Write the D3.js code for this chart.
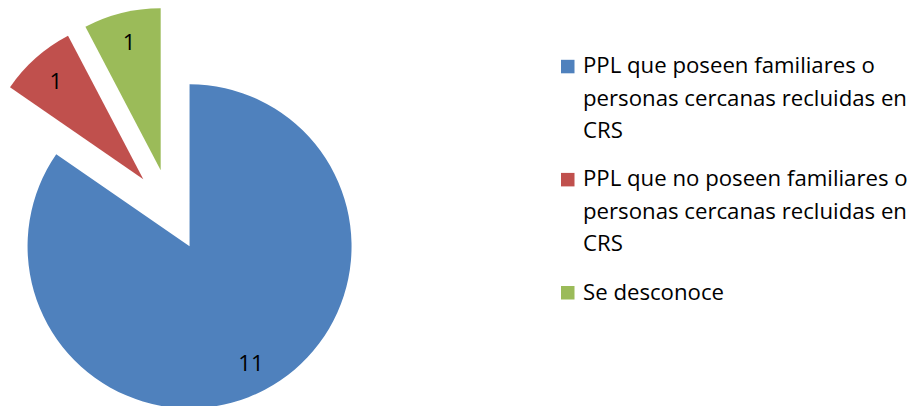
<!DOCTYPE html>
<html>
<head>
<meta charset="utf-8">
<script src="https://cdn.jsdelivr.net/npm/d3@7"></script>
<style>
  html, body { margin: 0; padding: 0; background: #fff; }
  svg { display: block; }
  text { font-family: 'Open Sans', sans-serif; fill: #000; }
</style>
</head>
<body>
<svg id="chart" width="922" height="406"></svg>
<script>
const categories = [
  'PPL que poseen familiares o personas cercanas recluidas en CRS',
  'PPL que no poseen familiares o personas cercanas recluidas en CRS',
  'Se desconoce',
];
const values = [11, 1, 1];
const colors = ['#4F81BD', '#C0504D', '#9BBB59'];

const svg = d3.select('#chart');

const cx = 170.5;
const cy = 210;
const radius = 162;
const explode = 41;
const labelRadius = 132;
const fontSize = 22.2;

const pie = d3.pie().sort(null).value((d) => d.value);
const arc = d3.arc().innerRadius(0).outerRadius(radius);

const slices = pie(values.map((v, i) => ({ value: v, name: categories[i], color: colors[i] })));

const g = svg.append('g').attr('transform', `translate(${cx},${cy})`);

const sliceG = g.selectAll('g.slice')
  .data(slices)
  .enter()
  .append('g')
  .attr('class', 'slice')
  .attr('transform', (d) => {
    const mid = (d.startAngle + d.endAngle) / 2;
    return `translate(${explode * Math.sin(mid)},${-explode * Math.cos(mid)})`;
  });

sliceG.append('path')
  .attr('d', arc)
  .attr('fill', (d) => d.data.color);

// data labels
sliceG.append('text')
  .attr('x', (d) => labelRadius * Math.sin((d.startAngle + d.endAngle) / 2))
  .attr('y', (d) => -labelRadius * Math.cos((d.startAngle + d.endAngle) / 2))
  .attr('dy', '0.36em')
  .attr('text-anchor', 'middle')
  .attr('font-size', `${fontSize}px`)
  .text((d) => d.data.value);

// legend
const legendX = 561;
const textX = 583;
const maxWidth = 922 - textX;
const lineHeight = 32.2;
const itemGap = 16.5;
const swatch = 13.5;

const legend = svg.append('g');
const measure = svg.append('text').attr('font-size', `${fontSize}px`).attr('visibility', 'hidden');

function wrap(str) {
  const words = str.split(' ');
  const lines = [];
  let line = '';
  words.forEach((w) => {
    const test = line ? `${line} ${w}` : w;
    measure.text(test);
    if (measure.node().getComputedTextLength() > maxWidth && line) {
      lines.push(line);
      line = w;
    } else {
      line = test;
    }
  });
  lines.push(line);
  return lines;
}

let baseline = 73.3;
categories.forEach((name, i) => {
  const lines = wrap(name);
  legend.append('rect')
    .attr('x', legendX)
    .attr('y', baseline - swatch)
    .attr('width', swatch)
    .attr('height', swatch)
    .attr('fill', colors[i]);
  const t = legend.append('text')
    .attr('font-size', `${fontSize}px`);
  lines.forEach((l, j) => {
    t.append('tspan')
      .attr('x', textX)
      .attr('y', baseline + j * lineHeight)
      .text(l);
  });
  baseline += lines.length * lineHeight + itemGap;
});
measure.remove();
</script>
</body>
</html>
